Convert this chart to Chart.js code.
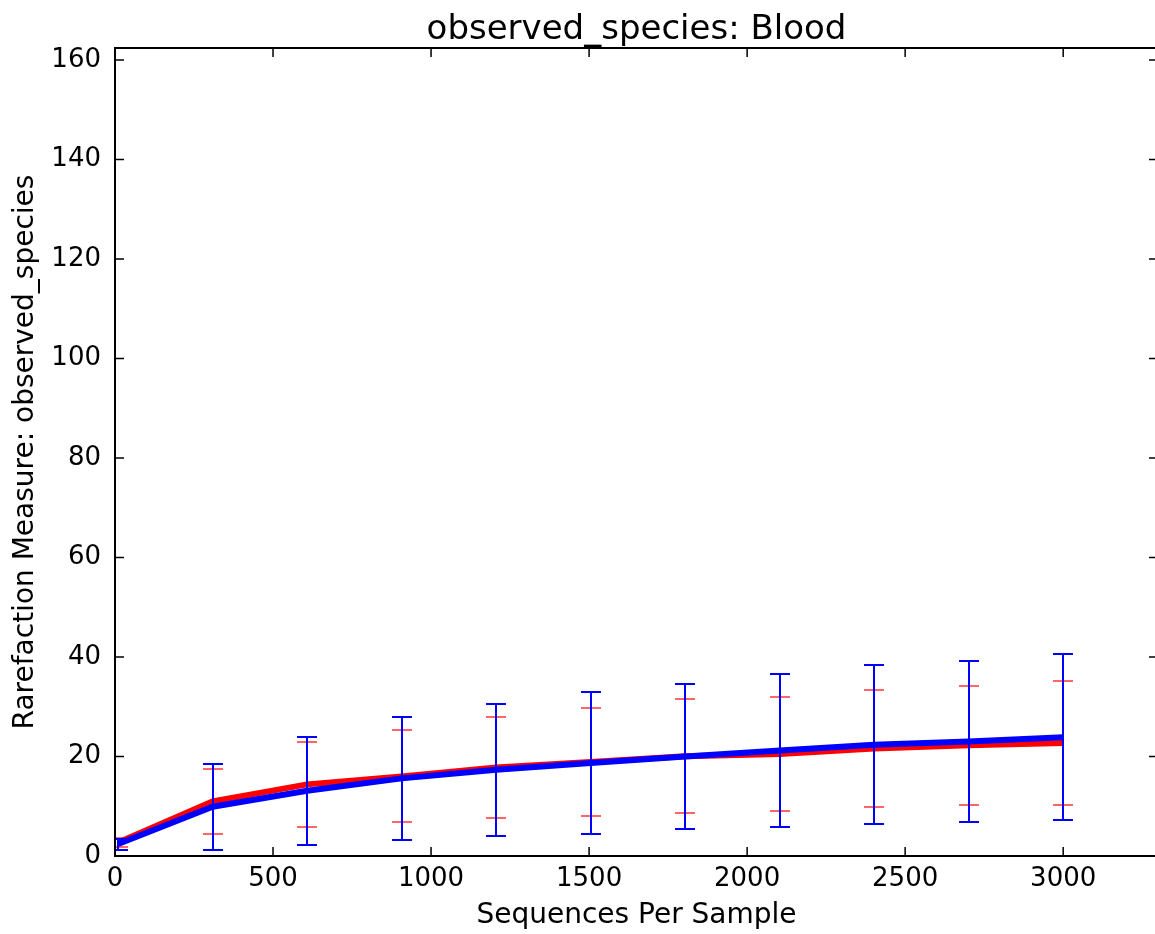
<!DOCTYPE html>
<html>
<head>
<meta charset="utf-8">
<title>observed_species: Blood</title>
<script src="https://cdn.jsdelivr.net/npm/chart.js@4.4.1/dist/chart.umd.min.js"></script>
<style>
	html, body { margin: 0; padding: 0; background: #fff; overflow: hidden; }
	.chart-wrap { width: 1155px; height: 934px; overflow: hidden; }
</style>
</head>
<body>
<div class="chart-wrap"><canvas id="rarefaction" width="1170" height="934"></canvas></div>
<script>
// Rarefaction depths (sequences per sample)
const depths = [10, 309, 608, 907, 1206, 1505, 1804, 2103, 2402, 2701, 3000];

// Red group: mean observed species and error (+/-)
const redMeans = [2.7, 11.0, 14.4, 16.0, 17.8, 18.9, 20.05, 20.5, 21.6, 22.25, 22.7];
const redErrors = [0.9, 6.55, 8.5, 9.25, 10.15, 10.8, 11.5, 11.5, 11.7, 11.95, 12.4];

// Blue group: mean observed species and error (+/-)
const blueMeans = [2.4, 9.9, 13.1, 15.6, 17.35, 18.7, 20.0, 21.2, 22.35, 23.0, 23.85];
const blueErrors = [1.1, 8.6, 10.8, 12.4, 13.25, 14.2, 14.6, 15.3, 15.97, 16.2, 16.7];

// Axis ticks and limits
const xTicks = [0, 500, 1000, 1500, 2000, 2500, 3000];
const yTicks = [0, 20, 40, 60, 80, 100, 120, 140, 160];
const xMax = 3300;
const yMax = 162.4;

(() => {
	'use strict'

	const fontFamily = "'DejaVu Sans', sans-serif";
	const textColor = '#000';

	function toPoints(means) {
		return depths.map((d, i) => ({ x: d, y: means[i] }));
	}

	/******************** Error bars ********************/
	const errorBars = {
		id: 'errorBars',
		afterDatasetDraw(chart, args) {
			const ds = chart.data.datasets[args.index];
			if (!ds.errors) return;
			const { ctx, chartArea, scales: { x, y } } = chart;
			ctx.save();
			ctx.beginPath();
			ctx.rect(chartArea.left, chartArea.top, chartArea.right - chartArea.left, chartArea.bottom - chartArea.top);
			ctx.clip();
			ds.data.forEach((p, i) => {
				// snap to whole pixels so the blue bar fully hides the red one
				const px = Math.round(x.getPixelForValue(p.x));
				const top = Math.round(y.getPixelForValue(p.y + ds.errors[i]));
				const bottom = Math.round(y.getPixelForValue(p.y - ds.errors[i]));
				// vertical bar
				ctx.strokeStyle = ds.borderColor;
				ctx.lineWidth = 2;
				ctx.beginPath();
				ctx.moveTo(px, top);
				ctx.lineTo(px, bottom);
				ctx.stroke();
				// caps
				ctx.strokeStyle = ds.capColor;
				ctx.beginPath();
				ctx.moveTo(px - 10, top);
				ctx.lineTo(px + 10, top);
				ctx.moveTo(px - 10, bottom);
				ctx.lineTo(px + 10, bottom);
				ctx.stroke();
			});
			ctx.restore();
		}
	};

	/******************** Frame + inward ticks ********************/
	const frame = {
		id: 'frame',
		afterDraw(chart) {
			const { ctx, chartArea: a, scales: { x, y } } = chart;
			const len = 9;
			ctx.save();
			ctx.strokeStyle = '#000';
			ctx.lineWidth = 1.5;
			ctx.beginPath();
			x.ticks.forEach(t => {
				const px = x.getPixelForValue(t.value);
				ctx.moveTo(px, a.bottom);
				ctx.lineTo(px, a.bottom - len);
				ctx.moveTo(px, a.top);
				ctx.lineTo(px, a.top + len);
			});
			y.ticks.forEach(t => {
				const py = y.getPixelForValue(t.value);
				ctx.moveTo(a.left, py);
				ctx.lineTo(a.left + len, py);
				ctx.moveTo(a.right, py);
				ctx.lineTo(a.right - len, py);
			});
			ctx.stroke();
			ctx.lineWidth = 2;
			ctx.strokeRect(a.left, a.top, a.right - a.left, a.bottom - a.top);
			ctx.restore();
		}
	};

	const tickFont = { family: fontFamily, size: 26 };
	const labelFont = { family: fontFamily, size: 28 };

	const config = {
		type: 'line',
		data: {
			datasets: [
				{
					label: 'Red',
					data: toPoints(redMeans),
					errors: redErrors,
					borderColor: '#ff0000',
					capColor: 'rgba(255, 0, 0, 0.6)',
					order: 2,
				},
				{
					label: 'Blue',
					data: toPoints(blueMeans),
					errors: blueErrors,
					borderColor: '#0000ff',
					capColor: '#0000ff',
					order: 1,
				}
			]
		},
		options: {
			responsive: false,
			animation: false,
			parsing: false,
			borderWidth: 6,
			tension: 0,
			pointRadius: 0,
			layout: {
				padding: { left: 0, right: 12, top: 0, bottom: 0 }
			},
			plugins: {
				legend: { display: false },
				tooltip: { enabled: false },
				title: {
					display: true,
					fullSize: false,
					text: 'observed_species: Blood',
					color: textColor,
					font: { family: fontFamily, size: 34, weight: 'normal', lineHeight: 1 },
					padding: { top: 13.5, bottom: 0.5 }
				}
			},
			scales: {
				x: {
					type: 'linear',
					min: 0,
					max: xMax,
					afterBuildTicks: s => { s.ticks = xTicks.map(v => ({ value: v })); },
					afterFit: s => { s.height = 78; },
					grid: { display: false, drawTicks: false },
					border: { display: false },
					ticks: {
						color: textColor,
						font: tickFont,
						padding: 8,
						maxRotation: 0,
						autoSkip: false,
						callback: v => String(v)
					},
					title: {
						display: true,
						text: 'Sequences Per Sample',
						color: textColor,
						font: labelFont,
						padding: { top: 0, bottom: 1 }
					}
				},
				y: {
					type: 'linear',
					min: 0,
					max: yMax,
					afterBuildTicks: s => { s.ticks = yTicks.map(v => ({ value: v })); },
					afterFit: s => { s.width = 115; },
					grid: { display: false, drawTicks: false },
					border: { display: false },
					ticks: {
						color: textColor,
						font: tickFont,
						padding: 14,
						autoSkip: false,
						callback: v => String(v)
					},
					title: {
						display: true,
						text: 'Rarefaction Measure: observed_species',
						color: textColor,
						font: labelFont,
						padding: { top: 9, bottom: 0 }
					}
				}
			}
		},
		plugins: [errorBars, frame]
	};

	const myChart = new Chart(document.getElementById('rarefaction'), config);
})()
</script>
</body>
</html>
